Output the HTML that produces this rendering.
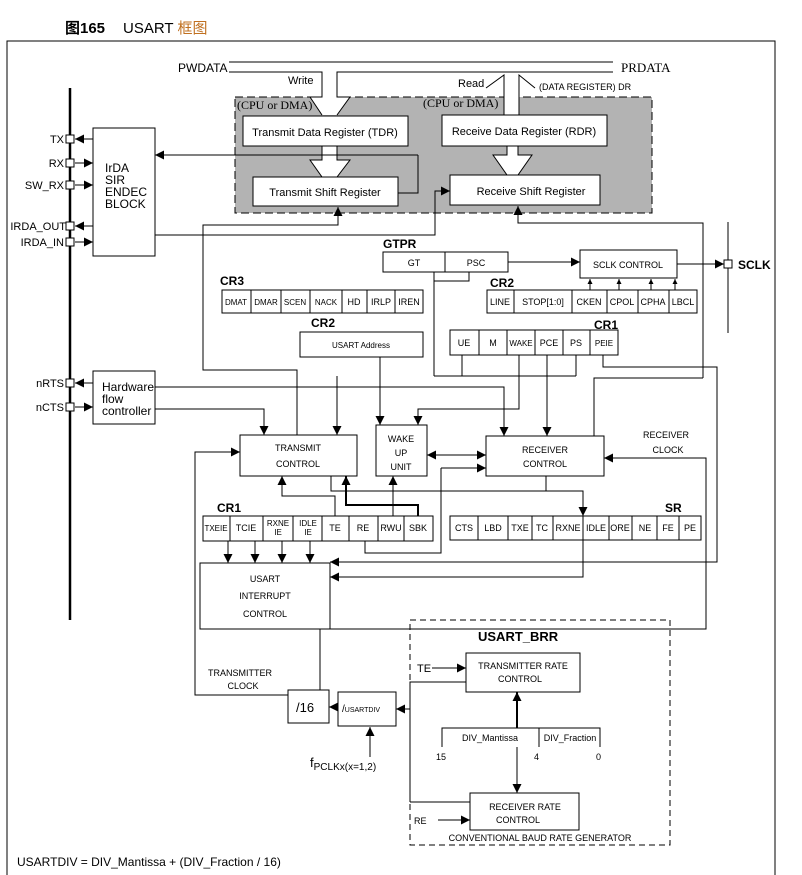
<!DOCTYPE html>
<html><head><meta charset="utf-8"><style>
body{margin:0;background:#fff}
svg{display:block}
text{font-family:"Liberation Sans","Noto Sans CJK SC",sans-serif;fill:#000}
.s{font-size:9px}
.m{font-size:11px}
</style></head><body>
<svg width="802" height="875" viewBox="0 0 802 875" xmlns="http://www.w3.org/2000/svg">
<defs>
<marker id="a" viewBox="0 0 10 10" refX="10" refY="5" markerWidth="9" markerHeight="9" markerUnits="userSpaceOnUse" orient="auto-start-reverse"><path d="M0,0L10,5L0,10z" fill="#000"/></marker>
<marker id="b" viewBox="0 0 10 10" refX="10" refY="5" markerWidth="5" markerHeight="5" markerUnits="userSpaceOnUse" orient="auto"><path d="M0,0L10,5L0,10z" fill="#000"/></marker>
</defs>
<text x="65" y="33" style="font-size:15px;font-weight:bold">图165</text>
<text x="123" y="33" style="font-size:15px">USART <tspan style="fill:#c07020">框图</tspan></text>
<g fill="none" stroke="#000" stroke-width="1">
<path d="M7,875V41H775V875"/>
<rect x="235" y="97" width="417" height="116" fill="#b3b3b3" stroke-dasharray="8,4"/>
<path d="M229,62H613"/>
<polygon points="322,72 337,72 337,97 350,97 337,115 322,115 310,97 322,97" fill="#fff" stroke="none"/>
<path d="M229,72H322V97H310L322,115M337,115L350,97H337V72H613"/>
<polygon points="504,88 519,88 519,115 504,115" fill="#fff" stroke="none"/>
<path d="M486,88L504,75V115M519,115V75L535,88"/>
<polygon points="507,146 518,146 518,155 532,155 518,175 507,175 493,155 507,155" fill="#fff" stroke="#000"/>
<polygon points="322,146 337,146 337,160 350,160 337,177 322,177 310,160 322,160" fill="#fff" stroke="#000"/>
<rect x="243" y="116" width="165" height="30" fill="#fff"/>
<rect x="442" y="115" width="165" height="31" fill="#fff"/>
<rect x="253" y="177" width="145" height="29" fill="#fff"/>
<rect x="450" y="175" width="150" height="30" fill="#fff"/>
<path d="M70,88V620" stroke-width="2.5"/>
<rect x="93" y="128" width="62" height="128"/>
<rect x="93" y="371" width="62" height="53"/>
<g fill="#fff"><rect x="66" y="135" width="8" height="8"/><rect x="66" y="159" width="8" height="8"/><rect x="66" y="181" width="8" height="8"/><rect x="66" y="222" width="8" height="8"/><rect x="66" y="238" width="8" height="8"/><rect x="66" y="379" width="8" height="8"/><rect x="66" y="403" width="8" height="8"/></g>
<g marker-end="url(#a)">
<path d="M93,139H75"/><path d="M75,163H93"/><path d="M75,185H93"/><path d="M93,226H75"/><path d="M75,242H93"/>
<path d="M93,383H75"/><path d="M75,407H93"/>
<path d="M418,155H155"/><path d="M398,193H418V155" marker-end="none"/>
<path d="M155,235H435V191H450"/>
<path d="M297,435V370H203V225H338V207"/>
<path d="M703,378V223H518V206"/>
<path d="M155,387H504V436"/>
<path d="M155,409H264V435"/>
<path d="M337,376V435"/><path d="M434,376H576" marker-end="none"/>
<path d="M380,357V425"/>
<path d="M519,355V409H418V425"/>
<path d="M547,355V436"/>
<path d="M603,355V367H717V562H330"/>
<path d="M594,436V378H703" marker-end="none"/>
<path d="M441,468H486"/><path d="M365,541V553H441V468" marker-end="none"/>
<path d="M546,476V491H583V516"/><path d="M546,491H331V476" marker-end="none"/>
<path d="M583,540V577H330"/>
<path d="M335,516V496H282V476"/>
<path d="M418,516V505H346V476" stroke-width="2"/>
<path d="M393,516V476"/>
<path d="M228,541V563"/><path d="M255,541V563"/><path d="M282,541V563"/><path d="M310,541V563"/>
<path d="M320,690V629H706V458H604"/>
<path d="M288,695H195V452H240"/>
<path d="M338,707H329"/>
<path d="M370,757V727"/>
<path d="M410,802V682H466" marker-end="none"/><path d="M410,802H470" marker-end="none"/><path d="M410,709H396"/>
<path d="M432,668H466"/><path d="M438,820H470"/>
<path d="M517,728V692" stroke-width="2"/><path d="M517,747V793"/>
<path d="M508,262H580"/><path d="M677,264H724"/>
<path d="M427,455H486" marker-start="url(#a)"/>
</g>
<path d="M434,272V376M462,355V376M576,355V376M469,272V281H434"/>
<path d="M728,222V333"/>
<rect x="724" y="260" width="8" height="8" fill="#fff"/>
<g marker-end="url(#b)"><path d="M590,290V279"/><path d="M619,290V279"/><path d="M651,290V279"/><path d="M675,290V279"/></g>
<rect x="240" y="435" width="117" height="41"/>
<rect x="376" y="425" width="51" height="51"/>
<rect x="486" y="436" width="118" height="40"/>
<rect x="200" y="563" width="130" height="66"/>
<rect x="288" y="690" width="41" height="33"/>
<rect x="338" y="692" width="58" height="34"/>
<rect x="410" y="620" width="260" height="225" stroke-dasharray="6,4"/>
<rect x="466" y="653" width="114" height="39"/>
<rect x="470" y="793" width="109" height="37"/>
<path d="M442,747V728H600V747M539,728V747"/>
<rect x="383" y="252" width="125" height="20"/><path d="M445,252V272"/>
<rect x="580" y="250" width="97" height="28"/>
<rect x="487" y="290" width="210" height="23"/><path d="M514,290V313M572,290V313M607,290V313M638,290V313M669,290V313"/>
<rect x="222" y="290" width="201" height="23"/><path d="M251,290V313M281,290V313M310,290V313M342,290V313M367,290V313M395,290V313"/>
<rect x="300" y="332" width="123" height="25"/>
<rect x="450" y="330" width="168" height="25"/><path d="M479,330V355M507,330V355M535,330V355M563,330V355M590,330V355"/>
<rect x="203" y="516" width="230" height="25"/><path d="M230,516V541M263,516V541M293,516V541M322,516V541M349,516V541M378,516V541M404,516V541"/>
<rect x="450" y="516" width="251" height="24"/><path d="M478,516V540M508,516V540M532,516V540M553,516V540M583,516V540M609,516V540M632,516V540M657,516V540M679,516V540"/>
</g>
<text x="178" y="72" style="font-size:12px">PWDATA</text>
<text x="621" y="72" style="font-size:13px;font-family:'Liberation Serif',serif">PRDATA</text>
<text x="237" y="109" style="font-size:12px;font-family:'Liberation Serif',serif">(CPU or DMA)</text>
<text x="423" y="107" style="font-size:12px;font-family:'Liberation Serif',serif">(CPU or DMA)</text>
<text x="288" y="84" class="m">Write</text>
<text x="458" y="87" class="m">Read</text>
<text x="539" y="90" class="s">(DATA REGISTER) DR</text>
<text x="325" y="136" class="m" text-anchor="middle">Transmit Data Register (TDR)</text>
<text x="524" y="135" class="m" text-anchor="middle">Receive Data Register (RDR)</text>
<text x="325" y="196" class="m" text-anchor="middle">Transmit Shift Register</text>
<text x="531" y="195" class="m" text-anchor="middle">Receive Shift Register</text>
<g class="m" text-anchor="end"><text x="64" y="143">TX</text><text x="64" y="167">RX</text><text x="64" y="189">SW_RX</text><text x="66" y="230">IRDA_OUT</text><text x="64" y="246">IRDA_IN</text><text x="64" y="387">nRTS</text><text x="64" y="411">nCTS</text></g>
<g style="font-size:12px"><text x="105" y="172">IrDA</text><text x="105" y="184">SIR</text><text x="105" y="196">ENDEC</text><text x="105" y="208">BLOCK</text>
<text x="102" y="391">Hardware</text><text x="102" y="403">flow</text><text x="102" y="415">controller</text></g>
<g style="font-size:12px;font-weight:bold"><text x="383" y="248">GTPR</text><text x="220" y="285">CR3</text><text x="490" y="287">CR2</text><text x="311" y="327">CR2</text><text x="594" y="329">CR1</text><text x="217" y="512">CR1</text><text x="665" y="512">SR</text><text x="478" y="641" style="font-size:13px">USART_BRR</text><text x="738" y="269">SCLK</text></g>
<g class="s" text-anchor="middle">
<text x="414" y="266">GT</text><text x="476" y="266">PSC</text><text x="628" y="268">SCLK CONTROL</text>
<text x="500" y="305">LINE</text><text x="543" y="305">STOP[1:0]</text><text x="589" y="305">CKEN</text><text x="622" y="305">CPOL</text><text x="653" y="305">CPHA</text><text x="683" y="305">LBCL</text>
<text x="236" y="305" style="font-size:8px">DMAT</text><text x="266" y="305" style="font-size:8px">DMAR</text><text x="295" y="305" style="font-size:8px">SCEN</text><text x="326" y="305" style="font-size:8px">NACK</text><text x="354" y="305">HD</text><text x="381" y="305">IRLP</text><text x="409" y="305">IREN</text>
<text x="361" y="348" style="font-size:8px">USART Address</text>
<text x="464" y="346">UE</text><text x="493" y="346">M</text><text x="521" y="346" style="font-size:8px">WAKE</text><text x="549" y="346">PCE</text><text x="576" y="346">PS</text><text x="604" y="346" style="font-size:8px">PEIE</text>
<text x="298" y="451">TRANSMIT</text><text x="298" y="467">CONTROL</text>
<text x="401" y="442">WAKE</text><text x="401" y="456">UP</text><text x="401" y="470">UNIT</text>
<text x="545" y="453">RECEIVER</text><text x="545" y="467">CONTROL</text>
<text x="666" y="438">RECEIVER</text><text x="668" y="453">CLOCK</text>
<text x="216" y="531" style="font-size:8px">TXEIE</text><text x="246" y="531">TCIE</text><text x="278" y="526" style="font-size:8px">RXNE</text><text x="278" y="535" style="font-size:8px">IE</text><text x="308" y="526" style="font-size:8px">IDLE</text><text x="308" y="535" style="font-size:8px">IE</text><text x="335" y="531">TE</text><text x="363" y="531">RE</text><text x="391" y="531">RWU</text><text x="418" y="531">SBK</text>
<text x="464" y="531">CTS</text><text x="493" y="531">LBD</text><text x="520" y="531">TXE</text><text x="542" y="531">TC</text><text x="568" y="531">RXNE</text><text x="596" y="531">IDLE</text><text x="620" y="531">ORE</text><text x="645" y="531">NE</text><text x="668" y="531">FE</text><text x="690" y="531">PE</text>
<text x="265" y="582">USART</text><text x="265" y="599">INTERRUPT</text><text x="265" y="617">CONTROL</text>
<text x="240" y="676">TRANSMITTER</text><text x="243" y="689">CLOCK</text>
<text x="523" y="669">TRANSMITTER RATE</text><text x="520" y="682">CONTROL</text>
<text x="525" y="810">RECEIVER RATE</text><text x="518" y="823">CONTROL</text>
<text x="540" y="841">CONVENTIONAL BAUD RATE GENERATOR</text>
<text x="490" y="741">DIV_Mantissa</text><text x="570" y="741">DIV_Fraction</text>
</g>
<g class="s"><text x="436" y="760">15</text><text x="534" y="760">4</text><text x="596" y="760">0</text><text x="417" y="672" class="m">TE</text><text x="414" y="824">RE</text></g>
<text x="296" y="712" style="font-size:13px">/16</text>
<text x="342" y="712" style="font-size:10px">/<tspan style="font-size:7px">USARTDIV</tspan></text>
<text x="310" y="767" style="font-size:13px">f<tspan style="font-size:10px" dy="3">PCLKx(x=1,2)</tspan></text>
<text x="17" y="866" style="font-size:12px">USARTDIV = DIV_Mantissa + (DIV_Fraction / 16)</text>
</svg>
</body></html>
